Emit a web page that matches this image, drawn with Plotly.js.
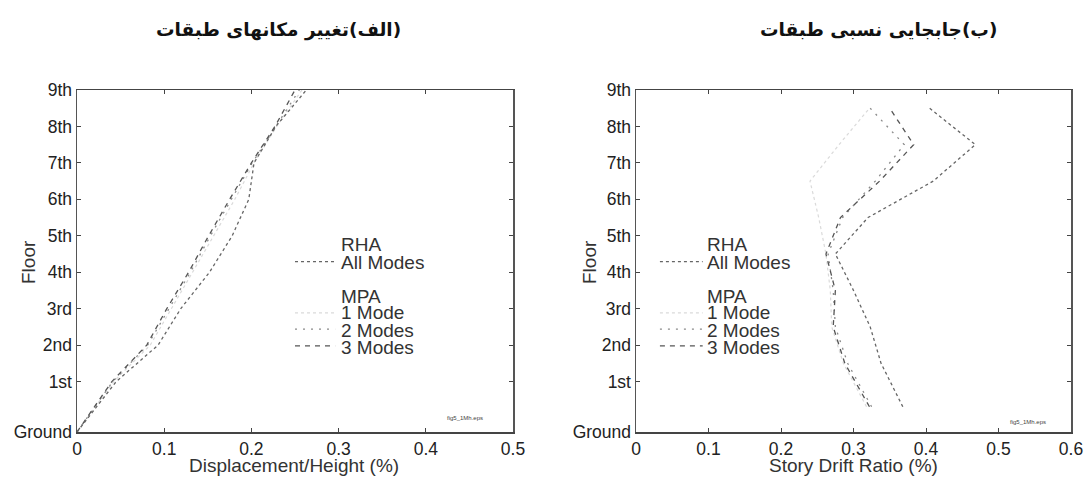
<!DOCTYPE html>
<html><head><meta charset="utf-8">
<script src="https://cdn.plot.ly/plotly-3.0.1.min.js"></script>
<style>html,body{margin:0;padding:0;background:#fff}#chart{width:1085px;height:477px}</style>
</head><body><div id="chart"></div>
<script>
// Floor levels of the 9-story frame (heights in ft, first story 18 ft, others 13 ft)
const floorLabels = ["Ground","1st","2nd","3rd","4th","5th","6th","7th","8th","9th"];
const floorHeights = [0,18,31,44,57,70,83,96,109,122];
// Story drifts are plotted at mid-story heights
const storyMidHeights = [9,24.5,37.5,50.5,63.5,76.5,89.5,102.5,115.5];

// (a) Floor displacement / height (%)
const dispRHA    = [0,0.045,0.093,0.119,0.152,0.178,0.197,0.203,0.228,0.263];
const dispMPA1   = [0,0.042,0.084,0.108,0.133,0.157,0.181,0.203,0.229,0.258];
const dispMPA2   = [0,0.041,0.081,0.105,0.130,0.153,0.177,0.201,0.228,0.255];
const dispMPA3   = [0,0.040,0.080,0.103,0.128,0.151,0.175,0.200,0.227,0.250];

// (b) Story drift ratio (%)
const driftRHA   = [0.368,0.338,0.323,0.300,0.275,0.320,0.410,0.468,0.405];
const driftMPA1  = [0.318,0.286,0.270,0.268,0.262,0.252,0.240,0.280,0.322];
const driftMPA2  = [0.325,0.292,0.275,0.272,0.265,0.285,0.330,0.370,0.323];
const driftMPA3  = [0.322,0.288,0.272,0.275,0.262,0.282,0.336,0.383,0.350];

const legendHeads = ["RHA","All Modes","MPA","1 Mode","2 Modes","3 Modes"];
// Panel headings (right-to-left text; leading RLM keeps the brackets with the label)
const titleA = "\u200F(الف)تغییر مکانهای طبقات";
const titleB = "\u200F(ب)جابجایی نسبی طبقات";
const xTitleA = "Displacement/Height (%)";
const xTitleB = "Story Drift Ratio (%)";
const yTitle = "Floor";
const fileTag = "fig5_1Mh.eps";

const styles = {
  rha:  {color:'#666', width:1.3, dash:'dot'},
  m1:   {color:'#dadada', width:1.2, dash:'dot'},
  m2:   {color:'#8a8a8a', width:1.3, dash:'2px,6px'},
  m3:   {color:'#555', width:1.3, dash:'5px,5px'}
};

function tr(x, y, xa, ya, st, name) {
  return {x:x, y:y, xaxis:xa, yaxis:ya, type:'scatter', mode:'lines', name:name,
          line:st, showlegend:false, hoverinfo:'skip'};
}

const data = [
  tr(dispMPA1, floorHeights, 'x', 'y', styles.m1, 'MPA 1 Mode'),
  tr(dispMPA2, floorHeights, 'x', 'y', styles.m2, 'MPA 2 Modes'),
  tr(dispMPA3, floorHeights, 'x', 'y', styles.m3, 'MPA 3 Modes'),
  tr(dispRHA,  floorHeights, 'x', 'y', styles.rha, 'RHA'),
  tr(driftMPA1, storyMidHeights, 'x2', 'y2', styles.m1, 'MPA 1 Mode'),
  tr(driftMPA2, storyMidHeights, 'x2', 'y2', styles.m2, 'MPA 2 Modes'),
  tr(driftMPA3, storyMidHeights, 'x2', 'y2', styles.m3, 'MPA 3 Modes'),
  tr(driftRHA,  storyMidHeights, 'x2', 'y2', styles.rha, 'RHA')
];

const tickFont = {family:'Liberation Sans, Arial, sans-serif', size:17.5, color:'#222'};
function xAx(range, dtick, anchor, domain) {
  return {domain:domain, range:range, dtick:dtick, tick0:0, anchor:anchor,
          showgrid:false, zeroline:false, showline:true, mirror:'ticks',
          linecolor:'#444', linewidth:1.5, ticks:'inside', ticklen:4, tickcolor:'#444',
          tickfont:tickFont, fixedrange:true};
}
function yAx(anchor, domain) {
  return {domain:domain, range:[0,122], tickvals:floorHeights, ticktext:floorLabels, anchor:anchor,
          showgrid:false, zeroline:false, showline:true, mirror:'ticks',
          linecolor:'#555', linewidth:1.5, ticks:'inside', ticklen:4, tickcolor:'#444',
          tickfont:tickFont, fixedrange:true};
}

const yDom = [45/477, 387/477];
const layout = {
  width:1085, height:477, margin:{l:0,r:0,t:0,b:0},
  paper_bgcolor:'#fff', plot_bgcolor:'#fff', showlegend:false,
  xaxis: xAx([0,0.5], 0.1, 'y', [77/1085, 513/1085]),
  yaxis: yAx('x', yDom),
  xaxis2: xAx([0,0.6], 0.1, 'y2', [636/1085, 1071/1085]),
  yaxis2: yAx('x2', yDom),
  shapes: [],
  annotations: []
};

const legFont = {family:'Liberation Sans, Arial, sans-serif', size:19, color:'#333'};
const legY = [67.0, 60.6, 48.4, 42.6, 36.2, 30.2];
function addLegend(xa, ya, textX, s0, s1) {
  legendHeads.forEach((t,i)=>{
    layout.annotations.push({xref:xa, yref:ya, x:textX, y:legY[i], text:t, showarrow:false,
      xanchor:'left', yanchor:'middle', font:legFont});
  });
  [[styles.rha,60.8],[styles.m1,42.5],[styles.m2,36.7],[styles.m3,30.7]].forEach(([st,y])=>{
    layout.shapes.push({type:'line', xref:xa, yref:ya, x0:s0, x1:s1, y0:y, y1:y,
      line:{color:st.color, width:st.width, dash:st.dash}});
  });
}
addLegend('x', 'y', 0.300, 0.250, 0.296);
addLegend('x2', 'y2', 0.095, 0.033, 0.092);

const titleFont = {family:'DejaVu Sans, sans-serif', size:18.5, color:'#111', weight:'bold'};
const axTitleFont = {family:'Liberation Sans, Arial, sans-serif', size:19, color:'#333'};
function pa(x, y, text, font, extra) {
  return Object.assign({xref:'paper', yref:'paper', x:x/1085, y:1-y/477, text:text, showarrow:false,
    xanchor:'center', yanchor:'middle', font:font}, extra || {});
}

layout.annotations.push(
  pa(278, 30, titleA, titleFont),
  pa(878, 30, titleB, titleFont),
  pa(294, 465, xTitleA, axTitleFont),
  pa(853, 465, xTitleB, axTitleFont),
  pa(28, 262, yTitle, axTitleFont, {textangle:-90}),
  pa(589, 262, yTitle, axTitleFont, {textangle:-90}),
  {xref:'x', yref:'y', x:0.445, y:5, text:fileTag, showarrow:false, xanchor:'center', yanchor:'middle',
   font:{family:'Liberation Sans, Arial', size:6, color:'#444'}},
  {xref:'x2', yref:'y2', x:0.540, y:3.6, text:fileTag, showarrow:false, xanchor:'center', yanchor:'middle',
   font:{family:'Liberation Sans, Arial', size:6, color:'#444'}}
);

Plotly.newPlot('chart', data, layout, {staticPlot:true, displayModeBar:false});
</script>
</body></html>
